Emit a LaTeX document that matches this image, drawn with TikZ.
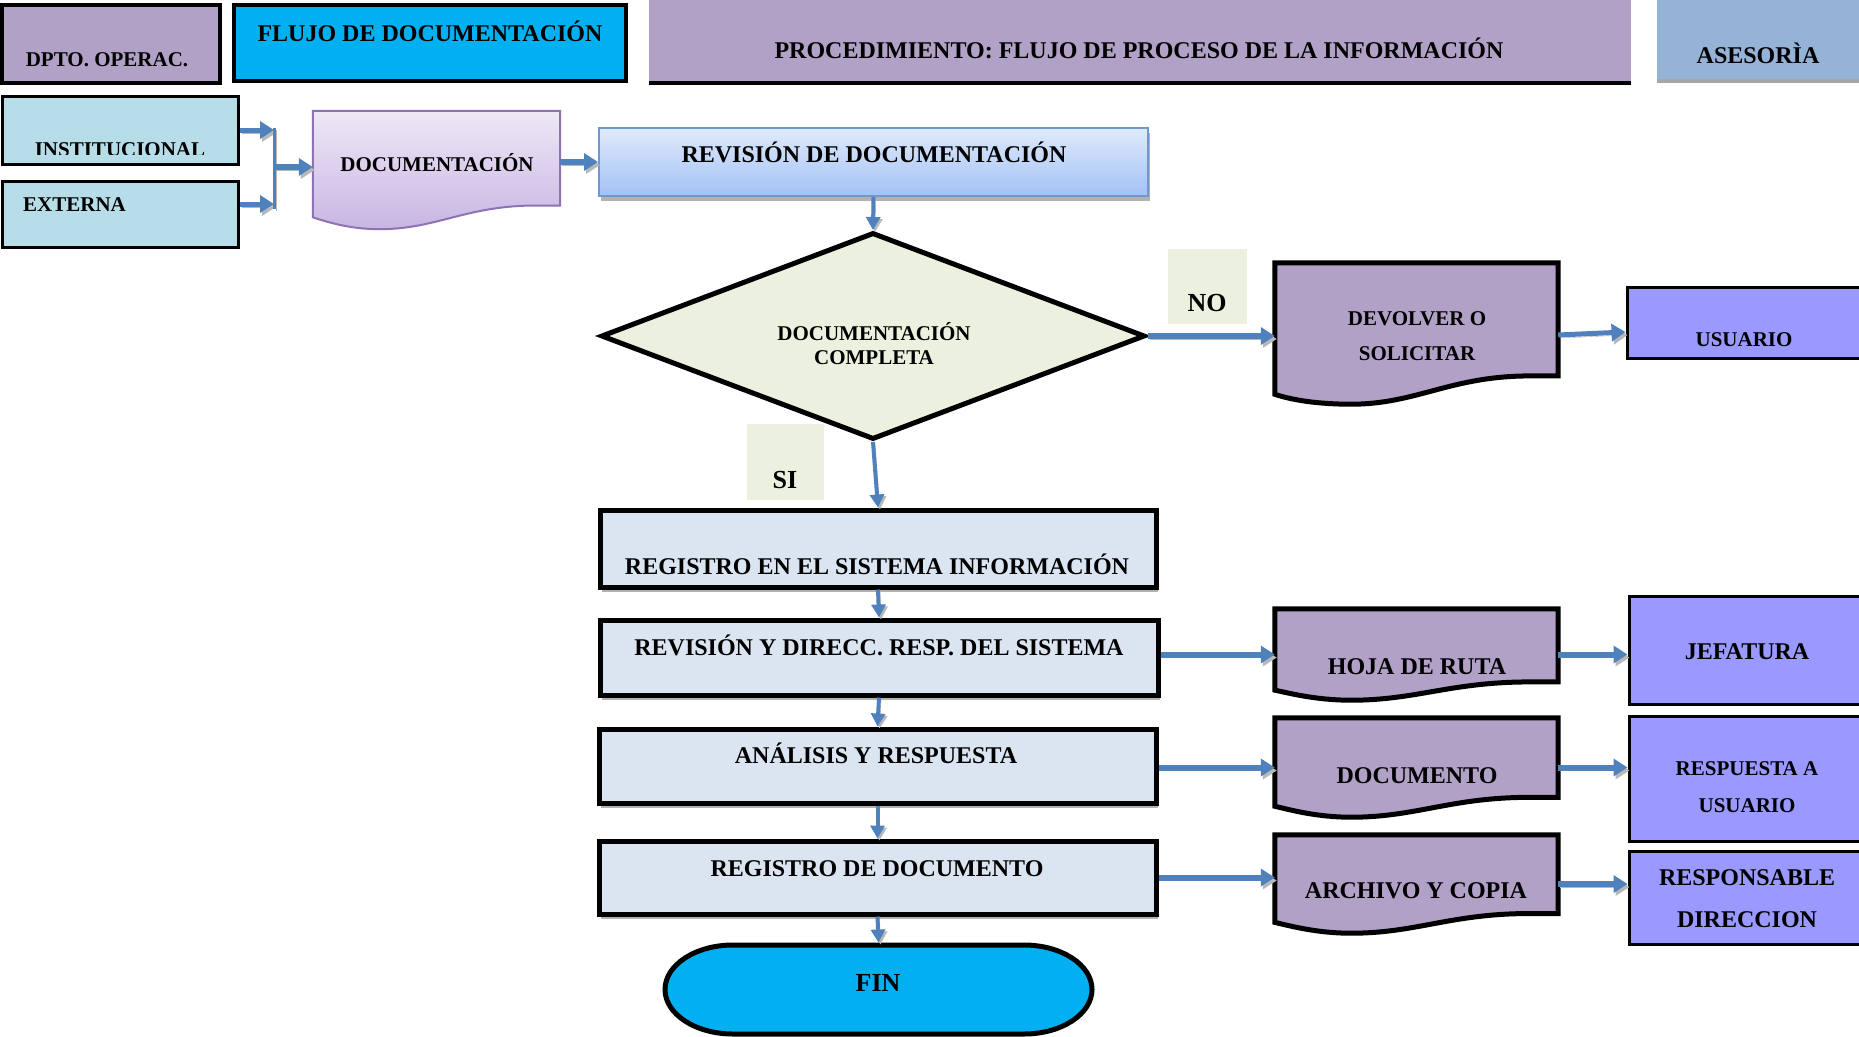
\documentclass[tikz,border=0pt]{standalone}
\usepackage{fontspec}
\setmainfont{Liberation Serif}
\usetikzlibrary{shapes.geometric,arrows.meta,calc,shadows}
\definecolor{purpA}{HTML}{B2A1C7}
\definecolor{cyanA}{HTML}{00B0F0}
\definecolor{asesB}{HTML}{95B3D7}
\definecolor{cyanL}{HTML}{B7DEE8}
\definecolor{greenP}{HTML}{EBF1DE}
\definecolor{paleB}{HTML}{DBE5F1}
\definecolor{peri}{HTML}{9999FF}
\definecolor{arrB}{HTML}{4F81BD}
\definecolor{docB}{HTML}{8E72B5}
\definecolor{docT}{HTML}{EEE8F6}
\definecolor{docBot}{HTML}{C8B6E2}
\definecolor{revT}{HTML}{E0EAFB}
\definecolor{revBot}{HTML}{A2C1F5}
\definecolor{revD}{HTML}{6F97D0}
\newcommand\docshape[4]{%
\path[#2] let \p1=(#1.north west), \p2=(#1.south east), \n1={\x2-\x1}, \n2={\y2-\y1} in
 (\x1,\y1) -- (\x2,\y1) -- (\x2,{\y1+#3*\n2}) -- ({\x1+0.9*\n1},{\y1+#3*\n2})
 .. controls ({\x1+0.62*\n1},{\y1+#3*\n2}) and ({\x1+0.5*\n1},\y2) .. ({\x1+0.27*\n1},\y2)
 .. controls ({\x1+0.15*\n1},\y2) and ({\x1+0.06*\n1},{\y1+(#4+0.04)*\n2}) .. (\x1,{\y1+#4*\n2}) -- cycle;}
\begin{document}
\begin{tikzpicture}[x=1pt,y=-1pt,
  box/.style={draw=black, line width=#1, inner sep=0pt},
  box/.default=4pt,
  plain/.style={inner sep=0pt},
  pshadow/.style={drop shadow={shadow xshift=1.5pt, shadow yshift=-5pt, fill=black, opacity=0.3}},
  tA/.style={font=\fontsize{21}{25}\selectfont\bfseries, inner sep=0pt, anchor=base},
  tB/.style={font=\fontsize{24}{28}\selectfont\bfseries, inner sep=0pt, anchor=base},
  tC/.style={font=\fontsize{26}{30}\selectfont\bfseries, inner sep=0pt, anchor=base},
  flow/.style={draw=arrB, line width=#1, -{Triangle[length=14pt,width=17pt]},
     preaction={draw=black!28, transform canvas={shift={(2pt,-3pt)}}}},
  flow/.default=6pt,
  flowv/.style={draw=arrB, line width=4pt, -{Triangle[length=13pt,width=14pt]},
     preaction={draw=black!28, transform canvas={shift={(2pt,-2pt)}}}},
  ]
\fill[white] (0,0) rectangle (1859,1036);
\useasboundingbox (0,0) rectangle (1859,1036);
\clip (0,0) rectangle (1859,1036);

% ---------- header ----------
\node[box=4pt, fill=purpA, minimum width=218pt, minimum height=78pt] (dpto) at (111,44) {};
\node[tA] (l-dpto) at (107,66) {DPTO. OPERAC.};
\node[box=4pt, fill=cyanA, minimum width=392pt, minimum height=76pt] (flujo) at (430,43) {};
\node[tB] (l-flujo) at (430,41) {FLUJO DE DOCUMENTACIÓN};
\node[plain, fill=purpA, minimum width=982pt, minimum height=90pt] (proc) at (1140,38) {};
\draw[line width=4pt] (proc.south west) -- (proc.south east);
\node[tB] (l-proc) at (1139,58) {PROCEDIMIENTO: FLUJO DE PROCESO DE LA INFORMACIÓN};
\node[plain, fill=asesB, minimum width=210pt, minimum height=88pt] (ases) at (1762,37) {};
\draw[line width=4pt, draw=black!35] (ases.south west) -- (ases.south east);
\node[tB] (l-ases) at (1758,63) {ASESORÌA};

% ---------- inputs ----------
\node[box=3pt, fill=cyanL, minimum width=236pt, minimum height=68pt] (inst) at (120,130) {};
\begin{scope}
\clip (inst.north west) rectangle ([yshift=11pt]inst.south east);
\node[tA] (l-inst) at (120,156) {INSTITUCIONAL};
\end{scope}
\node[box=3pt, fill=cyanL, minimum width=236pt, minimum height=66pt] (ext) at (120,214) {};
\node[tA, anchor=base west] (l-ext) at (23,211) {EXTERNA};

\node[plain, minimum width=247pt, minimum height=118pt] (doc1) at (436.5,170) {};
\docshape{doc1}{draw=docB, line width=2pt, top color=docT, bottom color=docBot}{0.8}{0.9}
\node[tA] (l-doc1) at (437,171) {DOCUMENTACIÓN};

\node[plain, draw=revD, line width=2pt, top color=revT, bottom color=revBot, minimum width=549pt, minimum height=68pt, pshadow] (rev) at (873.5,162) {};
\node[tB] (l-rev) at (874,162) {REVISIÓN DE DOCUMENTACIÓN};

% ---------- decision ----------
\node[draw, line width=5pt, fill=greenP, diamond, minimum width=544pt, minimum height=207pt, inner sep=0pt] (dia) at (873,336) {};
\node[tA] (l-dia1) at (874,340) {DOCUMENTACIÓN};
\node[tA] (l-dia2) at (874,364) {COMPLETA};

\node[plain, fill=greenP, minimum width=79pt, minimum height=75pt] (nobox) at (1207.5,286.5) {};
\node[tC] (l-no) at (1207,311) {NO};
\node[plain, fill=greenP, minimum width=77pt, minimum height=76pt] (sibox) at (785.5,462) {};
\node[tC] (l-si) at (785,488) {SI};

\node[plain, minimum width=283pt, minimum height=141pt] (dev) at (1416.5,333.5) {};
\docshape{dev}{draw, line width=5pt, fill=purpA}{0.8}{0.93}
\node[tA] (l-dev1) at (1417,325) {DEVOLVER O};
\node[tA] (l-dev2) at (1417,360) {SOLICITAR};

\node[box=3pt, fill=peri, minimum width=243pt, minimum height=71pt] (usu) at (1748.5,322.5) {};
\node[tA] (l-usu) at (1744,346) {USUARIO};

% ---------- process column ----------
\node[box=5pt, fill=paleB, minimum width=556pt, minimum height=77pt, pshadow] (reg1) at (878,548.5) {};
\node[tB] (l-reg1) at (877,574) {REGISTRO EN EL SISTEMA INFORMACIÓN};
\node[box=5pt, fill=paleB, minimum width=558pt, minimum height=75pt, pshadow] (rev2) at (879,657.5) {};
\node[tB] (l-rev2) at (879,655) {REVISIÓN Y DIRECC. RESP. DEL SISTEMA};
\node[box=5pt, fill=paleB, minimum width=557pt, minimum height=74pt, pshadow] (anal) at (877.5,766) {};
\node[tB] (l-anal) at (876,763) {ANÁLISIS Y RESPUESTA};
\node[box=5pt, fill=paleB, minimum width=557pt, minimum height=73pt, pshadow] (regdoc) at (877.5,877.5) {};
\node[tB] (l-regdoc) at (877,876) {REGISTRO DE DOCUMENTO};
\node[plain, minimum width=427pt, minimum height=89pt, outer sep=2.5pt] (fin) at (878.5,989.5) {};
\draw[line width=5pt, fill=cyanA] let \p1=(fin.north west), \p2=(fin.south east) in
  ({\x1+2.5pt+68pt},{\y1-2.5pt}) -- ({\x2-2.5pt-68pt},{\y1-2.5pt})
  arc[start angle=90, end angle=-90, x radius=68pt, y radius=44.5pt]
  -- ({\x1+2.5pt+68pt},{\y2+2.5pt})
  arc[start angle=270, end angle=90, x radius=68pt, y radius=44.5pt] -- cycle;
\node[tC] (l-fin) at (878,991) {FIN};

% ---------- documents ----------
\node[plain, minimum width=283pt, minimum height=91pt] (hoja) at (1416.5,654.5) {};
\docshape{hoja}{draw, line width=5pt, fill=purpA}{0.8}{0.89}
\node[tB] (l-hoja) at (1417,674) {HOJA DE RUTA};
\node[plain, minimum width=283pt, minimum height=99pt] (docu) at (1416.5,767.5) {};
\docshape{docu}{draw, line width=5pt, fill=purpA}{0.8}{0.89}
\node[tB] (l-docu) at (1417,783) {DOCUMENTO};
\node[plain, minimum width=283pt, minimum height=98pt] (arch) at (1416.5,884) {};
\docshape{arch}{draw, line width=5pt, fill=purpA}{0.8}{0.89}
\node[tB] (l-arch) at (1416,898) {ARCHIVO Y COPIA};

% ---------- destinations ----------
\node[box=3pt, fill=peri, minimum width=241pt, minimum height=108pt] (jef) at (1749.5,650) {};
\node[tB] (l-jef) at (1747,659) {JEFATURA};
\node[box=3pt, fill=peri, minimum width=241pt, minimum height=125pt] (resp) at (1749.5,778.5) {};
\node[tA] (l-resp1) at (1747,775) {RESPUESTA A};
\node[tA] (l-resp2) at (1747,812) {USUARIO};
\node[box=3pt, fill=peri, minimum width=241pt, minimum height=93pt] (respdir) at (1749.5,897.5) {};
\node[tB] (l-rd1) at (1747,885) {RESPONSABLE};
\node[tB] (l-rd2) at (1747,927) {DIRECCION};

% ---------- connectors ----------
\coordinate (brT) at (274,128);
\coordinate (brB) at (274,209);
\coordinate (brM) at (275,167);
\coordinate (brE) at (274,204);
\draw[flow=5pt] (inst.east) -- (inst.east -| brT);
\draw[flow=5pt] (ext.east |- brE) -- (brE);
\draw[draw=arrB, line width=3pt, preaction={draw=black!28, transform canvas={shift={(2pt,-2pt)}}}] (brT) -- (brB);
\draw[flow] (brM) -- (doc1.west |- brM);
\draw[flow] (doc1.east |- rev.west) -- (rev.west);
\draw[flowv] (rev.south) -- (dia.north);
\draw[flow] (dia.east) -- (dev.west |- dia.east);
\draw[flow=5pt] ([yshift=-1.5pt]dev.east) -- ([yshift=-9.5pt]usu.west);
\draw[flowv] (dia.south) -- (reg1.north);
\draw[flowv] (reg1.south) -- (rev2.north);
\draw[flowv] (rev2.south) -- (anal.north);
\draw[flowv] (anal.south) -- (regdoc.north);
\draw[flowv] (regdoc.south) -- (fin.north);
\draw[flow] (rev2.east |- hoja.west) -- (hoja.west);
\draw[flow] (hoja.east) -- (jef.west |- hoja.east);
\draw[flow] (anal.east |- docu.west) -- (docu.west);
\draw[flow] (docu.east) -- (resp.west |- docu.east);
\draw[flow] (regdoc.east) -- (arch.west |- regdoc.east);
\draw[flow] (arch.east) -- (respdir.west |- arch.east);
\end{tikzpicture}
\end{document}
